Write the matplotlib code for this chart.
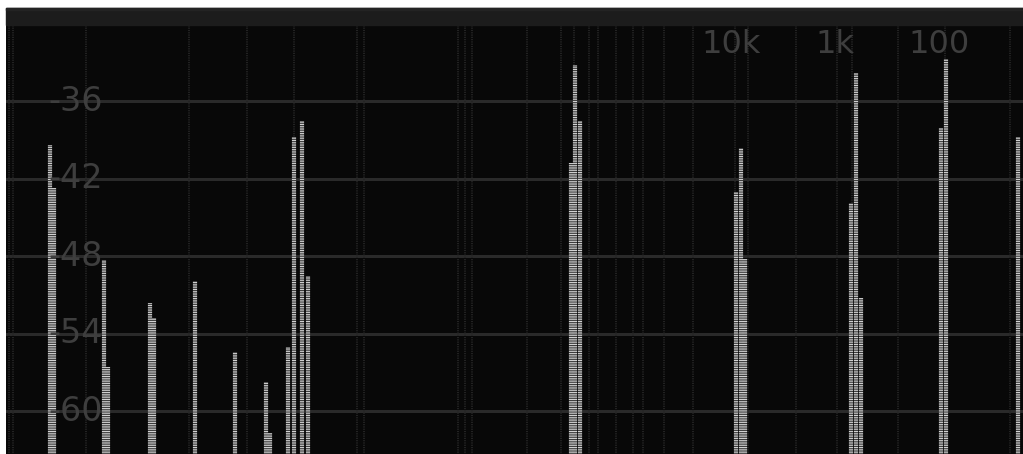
import numpy as np
import matplotlib
matplotlib.use("Agg")
import matplotlib.pyplot as plt
from matplotlib.patches import Rectangle

# spectrum columns: bin position and peak level (dB)
peak_bins = [50, 54, 104, 107.5, 149.5, 154, 194.5, 234.5, 265.5, 269.5,
             287.5, 293.5, 301.5, 308, 571, 575, 580, 735.5, 740.5, 745,
             851, 855.5, 860.5, 941, 945.5, 1018]
peak_db = [-39.4, -42.7, -48.3, -56.6, -51.6, -52.8, -49.9, -55.4, -57.7, -61.7,
           -55.0, -38.8, -37.5, -49.5, -40.8, -33.2, -37.5, -43.0, -39.6, -48.2,
           -43.9, -33.8, -51.2, -38.1, -32.7, -38.8]

# faint background columns (noise floor traces)
ghost_bins = [9, 13, 86, 189, 247, 294, 357, 364, 458, 465, 472, 527, 561,
              574, 589, 598, 616, 633, 643, 664, 693, 735, 748, 796, 837,
              852, 898, 945, 1010]

db_ticks = [-36, -42, -48, -54, -60]
db_labels = ["-36", "-42", "-48", "-54", "-60"]

freq_labels = ["10k", "1k", "100"]
freq_label_bins = [731, 835, 939.5]

plt.rcParams['lines.scale_dashes'] = False

fig = plt.figure(figsize=(10.23, 4.54), dpi=100)
fig.patch.set_facecolor("white")
fig.patches.append(Rectangle((6 / 1023, 429 / 454), 1017 / 1023, 17 / 454,
                             transform=fig.transFigure, color="#1c1c1c", zorder=0))
fig.patches.append(Rectangle((6 / 1023, 444 / 454), 1017 / 1023, 2 / 454,
                             transform=fig.transFigure, color="#232323", zorder=1))

ax = fig.add_axes([6 / 1023, 0, 1017 / 1023, 429 / 454])
ax.set_facecolor("#080808")
ax.set_xlim(6, 1023)
ax.set_ylim(-63.3, -30.1)
for s in ax.spines.values():
    s.set_visible(False)
ax.set_xticks([])
ax.set_yticks([])

# grid
for t in db_ticks:
    ax.axhline(t, color="#2a2a2a", lw=2.2, zorder=1)

# faint traces
ax.vlines(ghost_bins, -70, -29, color="#242424", lw=1.4,
          linestyles=[(0, (0.8, 0.85))], zorder=2)

# peaks: dim body plus bright dotted rows
ax.vlines(peak_bins, -70, peak_db, color="#3c3c3c", lw=3.0, zorder=3)
ax.vlines(peak_bins, -70, peak_db, color="#d2d2d2", lw=3.0,
          linestyles=[(0, (0.8, 0.85))], zorder=4)

# labels
for t, lab in zip(db_ticks, db_labels):
    ax.text(76, t, lab, color="#3e3e3e", fontsize=24, ha="center", va="center", zorder=5)
for b, lab in zip(freq_label_bins, freq_labels):
    ax.text(b, -31.6, lab, color="#3e3e3e", fontsize=23, ha="center", va="center", zorder=5)

plt.savefig("out.png", dpi=100, facecolor=fig.get_facecolor())
